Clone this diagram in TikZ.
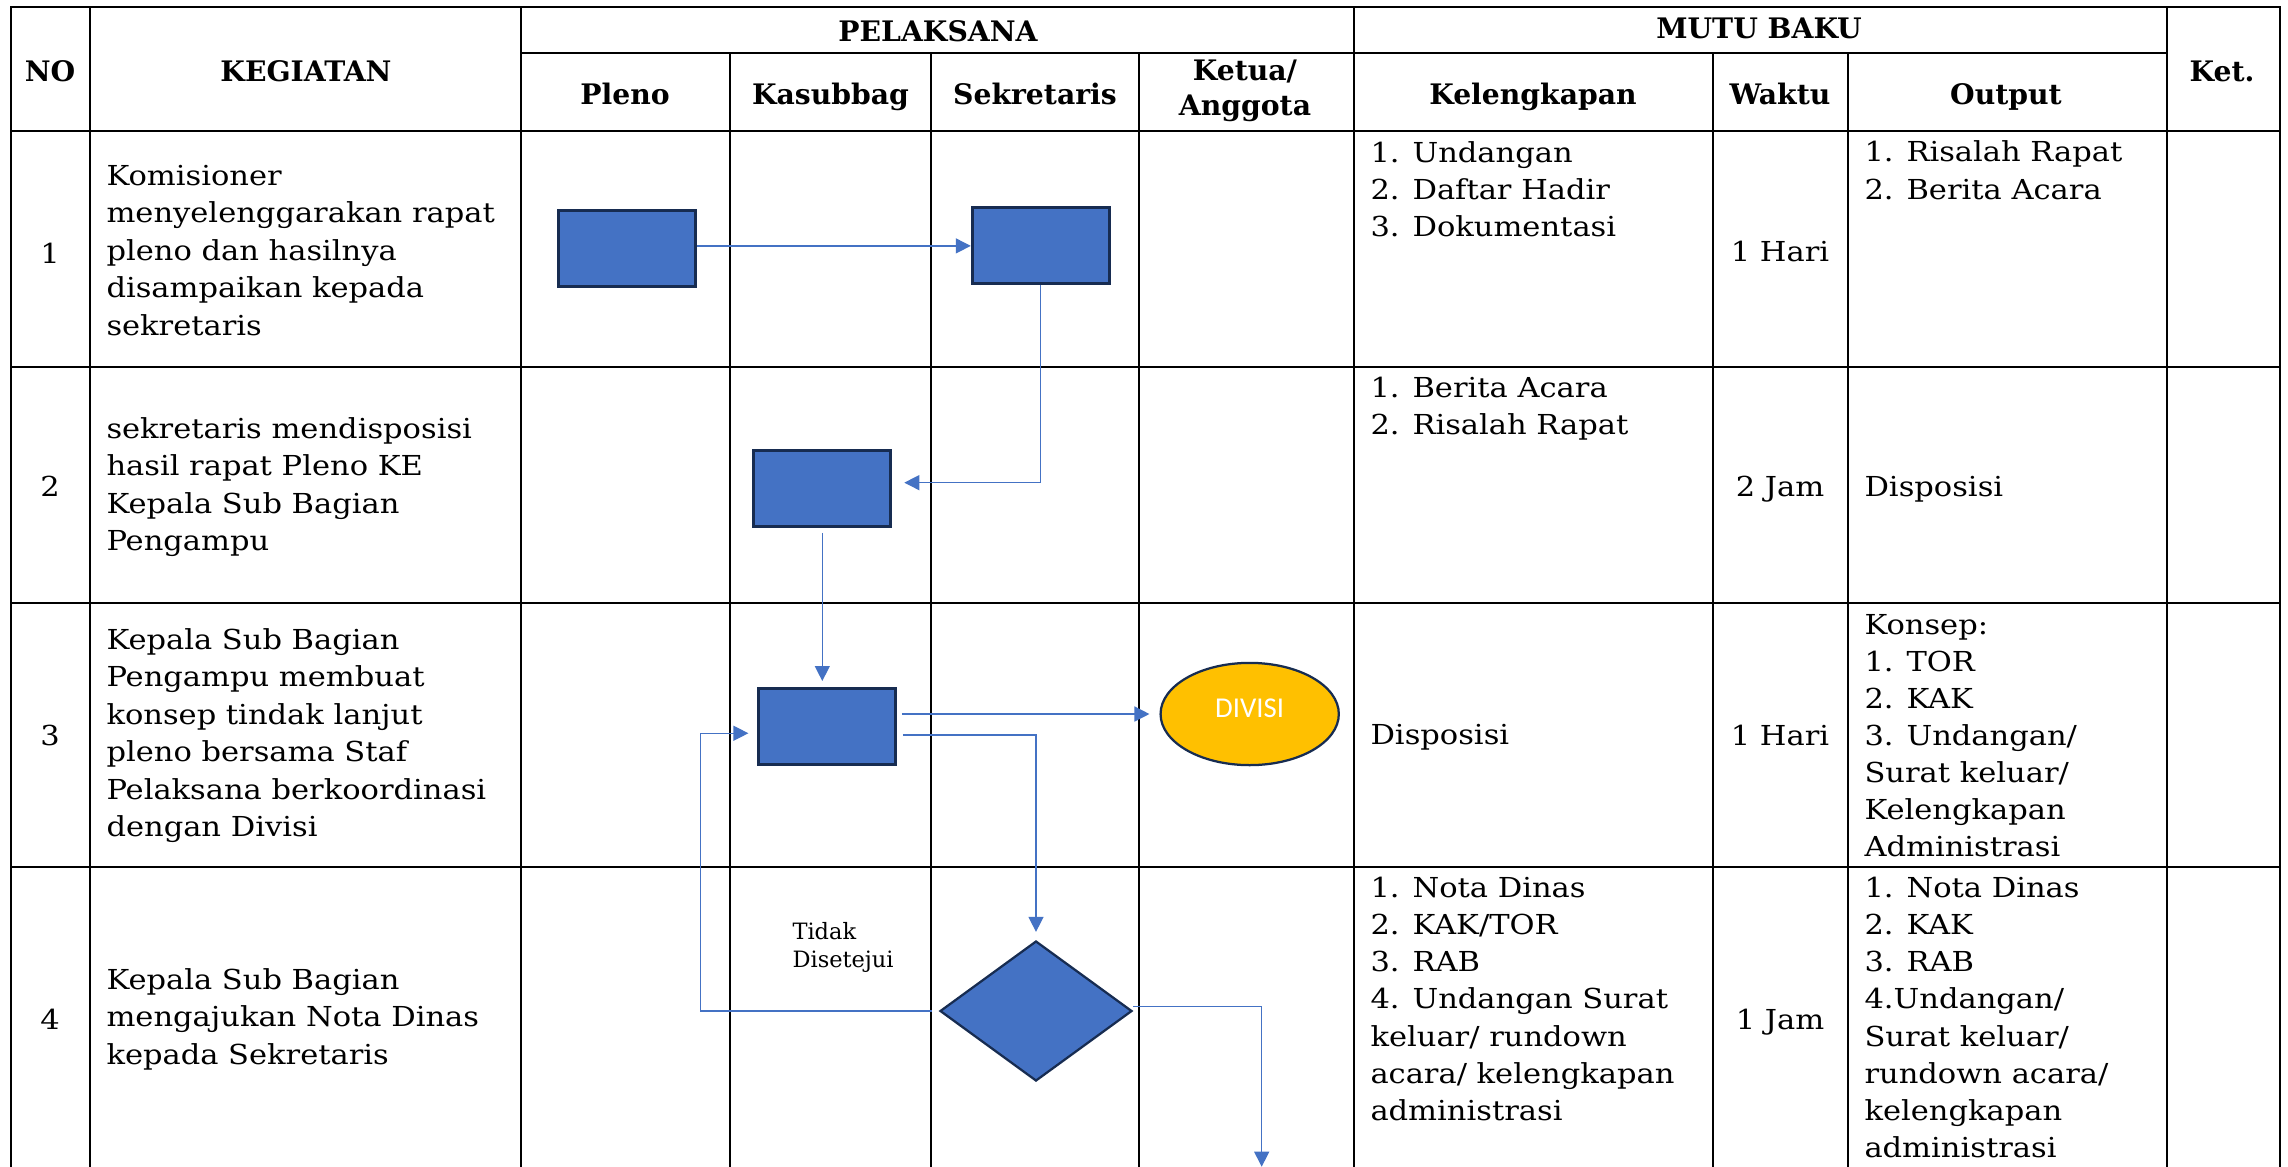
\documentclass[tikz,border=0pt]{standalone}
\usepackage{fontspec}
\setmainfont{DejaVu Serif}[FakeStretch=1.11]
\newfontfamily\hdfont{DejaVu Serif}
\newfontfamily\smallfont{DejaVu Serif}
\newfontfamily\calfont{Carlito}
\usetikzlibrary{arrows.meta,shapes.geometric}
\definecolor{boxblue}{HTML}{4472C4}
\definecolor{boxedge}{HTML}{172C51}
\definecolor{lineblue}{HTML}{4472C4}
\definecolor{divfill}{HTML}{FFC000}
\tikzset{
  grid/.style={line width=0.8pt, black, line cap=rect},
  procbox/.style={rectangle, draw=boxedge, fill=boxblue, line width=1.2pt, minimum width=54.8pt, minimum height=30.4pt, inner sep=0pt},
  conn/.style={draw=lineblue, line width=0.55pt, -{Triangle[length=6pt,width=6pt]}},
  hd/.style={font=\hdfont\bfseries\fontsize{11.3}{14}\selectfont, inner sep=0pt, anchor=base},
  body/.style={font=\fontsize{11}{15}\selectfont, inner sep=0pt, anchor=base west, align=left},
  bodyr/.style={font=\fontsize{11}{14.85}\selectfont, inner sep=0pt, anchor=base west, align=left},
  num/.style={font=\fontsize{11}{15}\selectfont, inner sep=0pt, anchor=base},
}
\begin{document}
\begin{tikzpicture}[x=0.4pt,y=-0.4pt]
\useasboundingbox[fill=white] (0,0) rectangle (2288,1167);
% grid
\draw[grid] (11,7.3) -- (2280,7.3);
\foreach \x in {11,90,521,1354,2167,2280} \draw[grid] (\x,7.3) -- (\x,1180);
\foreach \x in {730,931,1139,1713,1848} \draw[grid] (\x,53.3) -- (\x,1180);
\draw[grid] (521,53.3) -- (2167,53.3);
\foreach \y in {130.7,366.5,602.5,866.5} \draw[grid] (11,\y) -- (2280,\y);
% headers
\node[hd] (hno) at (50,81) {NO};
\node[hd] (hkeg) at (306,81.7) {KEGIATAN};
\node[hd] (hpel) at (938,41.7) {PELAKSANA};
\node[hd] (hmutu) at (1759,38.3) {MUTU BAKU};
\node[hd] (hpl) at (625,104) {Pleno};
\node[hd] (hks) at (830.5,104) {Kasubbag};
\node[hd] (hsk) at (1035,104) {Sekretaris};
\node[hd, align=center] (hka) at (1245,115) {Ketua/\\Anggota};
\node[hd] (hkel) at (1533,104) {Kelengkapan};
\node[hd] (hwak) at (1780,104) {Waktu};
\node[hd] (hout) at (2006,104) {Output};
\node[hd] (hket) at (2222,81.7) {Ket.};
% numbers
\node[num] (n1) at (50,263) {1};
\node[num] (n2) at (50,496.6) {2};
\node[num] (n3) at (50,745.5) {3};
\node[num] (n4) at (50,1029) {4};
% kegiatan (anchor = baseline of last line)
\node[body] (k1t) at (106,335.2) {Komisioner\\menyelenggarakan rapat\\pleno dan hasilnya\\disampaikan kepada\\sekretaris};
\node[body] (k2t) at (106,550.7) {sekretaris mendisposisi\\hasil rapat Pleno KE\\Kepala Sub Bagian\\Pengampu};
\node[body] (k3t) at (106,836.6) {Kepala Sub Bagian\\Pengampu membuat\\konsep tindak lanjut\\pleno bersama Staf\\Pelaksana berkoordinasi\\dengan Divisi};
\node[body] (k4t) at (106,1064.3) {Kepala Sub Bagian\\mengajukan Nota Dinas\\kepada Sekretaris};
% kelengkapan
\node[bodyr] (l1) at (1370,236.3) {1. Undangan\\2. Daftar Hadir\\3. Dokumentasi};
\node[bodyr] (l2) at (1370,434.6) {1. Berita Acara\\2. Risalah Rapat};
\node[bodyr] (l3) at (1370,744.5) {Disposisi};
\node[bodyr] (l4) at (1370,1120.3) {1. Nota Dinas\\2. KAK/TOR\\3. RAB\\4. Undangan Surat\\keluar/ rundown\\acara/ kelengkapan\\administrasi};
% waktu
\node[num] (w1) at (1780,261.7) {1 Hari};
\node[num] (w2) at (1780,496.6) {2 Jam};
\node[num] (w3) at (1780,745.6) {1 Hari};
\node[num] (w4) at (1780,1029.3) {1 Jam};
% output
\node[bodyr] (o1) at (1864,199.1) {1. Risalah Rapat\\2. Berita Acara};
\node[bodyr] (o2) at (1864,496) {Disposisi};
\node[bodyr] (o3) at (1864,856.8) {Konsep:\\1. TOR\\2. KAK\\3. Undangan/\\Surat keluar/\\Kelengkapan\\Administrasi};
\node[bodyr] (o4) at (1864,1157.4) {1. Nota Dinas\\2. KAK\\3. RAB\\4.Undangan/\\Surat keluar/\\rundown acara/\\kelengkapan\\administrasi};
% shapes
\node[procbox] (p1) at (627.3,248.4) {};
\node[procbox] (s1) at (1040.8,245.9) {};
\node[procbox] (k2) at (822.3,488.4) {};
\node[procbox] (k3) at (827.4,726.5) {};
\node[ellipse, draw=boxedge, fill=divfill, line width=0.9pt, minimum width=71.3pt, minimum height=40.9pt, inner sep=0pt, text=white, text height=7.4pt, text depth=4.8pt, font=\calfont\fontsize{11.5}{13}\selectfont] (div) at (1249.7,714) {DIVISI};
\node[diamond, draw=boxedge, fill=boxblue, line width=0.9pt, minimum width=76.8pt, minimum height=56pt, inner sep=0pt] (dec) at (1036,1011) {};
\node[anchor=base west, align=left, inner sep=0pt, font=\smallfont\fontsize{9}{11.2}\selectfont] (tdk) at (792,967) {Tidak\\Disetejui};
% connectors
\coordinate (lp) at (700.7,1011);
\coordinate (bot) at (1261.7,1166.7);
\path ([yshift=-2.7pt]k3.west) coordinate (kin);
\draw[conn] (p1.east |- s1.west) -- (s1.west);
\draw[conn, shorten >=4.8pt] (s1.south) |- ([yshift=2.3pt]k2.east);
\draw[conn, shorten <=2pt, shorten >=2.4pt] (k2.south) -- (k2.south |- k3.north);
\draw[conn, shorten >=4pt] ([xshift=1.8pt]k3.east |- div.west) -- (div.west);
\draw[conn, shorten >=3.2pt] ([xshift=2.2pt,yshift=-3.4pt]k3.east) -| (dec.north);
\draw[conn, shorten >=3.6pt] ([xshift=-2.8pt]dec.west) -- (lp) |- (kin);
\draw[conn] ([yshift=1.7pt]dec.east) -| (bot);
\end{tikzpicture}
\end{document}
